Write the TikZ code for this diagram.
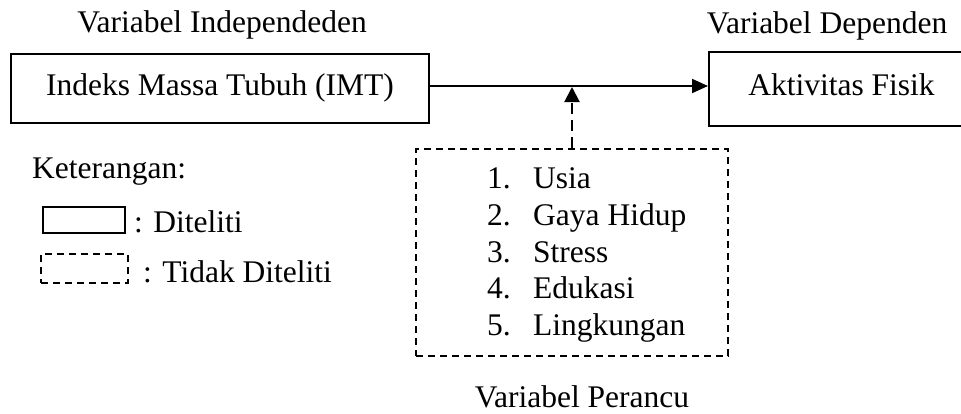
\documentclass[tikz,border=0pt]{standalone}
\usepackage{fontspec}
\setmainfont{Liberation Serif}
\usetikzlibrary{arrows.meta}
\begin{document}
\begin{tikzpicture}[x=1pt,y=-1pt,
  every node/.style={font=\fontsize{31.5}{37}\selectfont, inner sep=0pt},
  solidbox/.style={draw, line width=2pt, text height=22pt, text depth=9pt},
  dashbox/.style={draw, line width=2pt, dash pattern=on 7pt off 5pt},
  txt/.style={anchor=base west},
  ctxt/.style={anchor=base},
  mainarrow/.style={line width=2pt, -{Triangle[length=16pt,width=14pt]}},
  confarrow/.style={line width=2pt, dash pattern=on 11pt off 6pt, -{Triangle[length=15pt,width=15pt]}}
]
\useasboundingbox (0,0) rectangle (961,413);
% titles
\node[ctxt] (tind) at (222,32) {Variabel Independeden};
\node[ctxt] (tdep) at (827,33) {Variabel Dependen};
% main boxes
\node[solidbox, minimum width=418pt, minimum height=69pt] (imt) at (220,88.5) {Indeks Massa Tubuh (IMT)};
\node[solidbox, minimum width=265pt, minimum height=74pt] (akt) at (841.5,89) {Aktivitas Fisik};
\draw[mainarrow] ([yshift=2.5pt]imt.east) -- ([yshift=3pt]akt.west);
% confounders box
\node[dashbox, minimum width=312pt, minimum height=207pt] (conf) at (572,252.5) {};
\coordinate (meet) at (572,87);
\draw[confarrow] (conf.north) -- (meet);
\node[txt] (n1) at (487,188) {1.};
\node[txt] (i1) at (533,188) {Usia};
\node[txt] (n2) at (487,225) {2.};
\node[txt] (i2) at (533,225) {Gaya Hidup};
\node[txt] (n3) at (487,262) {3.};
\node[txt] (i3) at (533,262) {Stress};
\node[txt] (n4) at (487,298) {4.};
\node[txt] (i4) at (533,298) {Edukasi};
\node[txt] (n5) at (487,335) {5.};
\node[txt] (i5) at (533,335) {Lingkungan};
\node[ctxt] (tconf) at (582,407) {Variabel Perancu};
% legend
\node[txt] (ket) at (32,178) {Keterangan:};
\node[draw, line width=2pt, minimum width=82pt, minimum height=26pt] (legS) at (84,220) {};
\node[txt] (legSt) at (134,232) {: Diteliti};
\node[dashbox, minimum width=87pt, minimum height=29pt] (legD) at (84.5,268.5) {};
\node[txt] (legDt) at (143,282) {: Tidak Diteliti};
\end{tikzpicture}
\end{document}
